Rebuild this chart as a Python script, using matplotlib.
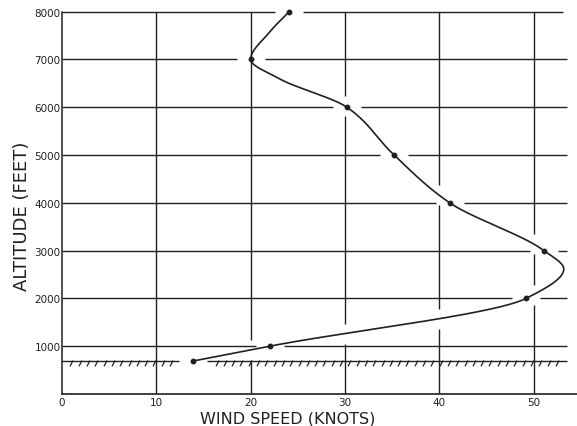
import numpy as np
import matplotlib
matplotlib.use("Agg")
import matplotlib.pyplot as plt
from matplotlib.path import Path

plt.rcParams['font.family'] = ['DejaVu Sans']

# Observed wind speed (knots) at each altitude (feet)
obs_alt = [690, 1000, 2000, 3000, 4000, 5000, 6000, 7000, 8000]
obs_speed = [13.9, 22.0, 49.2, 51.1, 41.1, 35.2, 30.2, 20.0, 24.1]

# Hand-faired profile through the observations (altitude ft, speed kt)
trace_alt = [690, 1000, 2000, 2615, 3000, 4000, 5000, 6000, 6590, 7000, 7570, 8000]
trace_speed = [13.9, 22.0, 49.2, 53.2, 51.1, 41.1, 35.2, 30.2, 23.1, 20.0, 22.0, 24.1]

# Ground level (feet)
ground_alt = 690

x_ticks = [0, 10, 20, 30, 40, 50]
x_tick_labels = ['0', '10', '20', '30', '40', '50']
y_ticks = [1000, 2000, 3000, 4000, 5000, 6000, 7000, 8000]
y_tick_labels = ['1000', '2000', '3000', '4000', '5000', '6000', '7000', '8000']

x_label = 'WIND SPEED (KNOTS)'
y_label = 'ALTITUDE (FEET)'

INK = '#202020'


def pchip(xk, yk, xq):
    """Shape-preserving cubic through (xk, yk), evaluated at xq."""
    xk = np.asarray(xk, float)
    yk = np.asarray(yk, float)
    h = np.diff(xk)
    d = np.diff(yk) / h
    m = np.zeros_like(yk)
    for k in range(1, len(xk) - 1):
        if d[k - 1] * d[k] <= 0:
            m[k] = 0.0
        else:
            w1 = 2 * h[k] + h[k - 1]
            w2 = h[k] + 2 * h[k - 1]
            m[k] = (w1 + w2) / (w1 / d[k - 1] + w2 / d[k])
    m[0] = d[0]
    m[-1] = d[-1]
    xq = np.asarray(xq, float)
    idx = np.clip(np.searchsorted(xk, xq) - 1, 0, len(xk) - 2)
    t = (xq - xk[idx]) / h[idx]
    h00 = 2 * t**3 - 3 * t**2 + 1
    h10 = t**3 - 2 * t**2 + t
    h01 = -2 * t**3 + 3 * t**2
    h11 = t**3 - t**2
    return (h00 * yk[idx] + h10 * h[idx] * m[idx]
            + h01 * yk[idx + 1] + h11 * h[idx] * m[idx + 1])


def open_intervals(lo, hi, cuts, half):
    """Split [lo, hi] into pieces that leave a gap of +-half around each cut."""
    pieces = []
    start = lo
    for c in sorted(cuts):
        a, b = c - half, c + half
        if b <= start or a >= hi:
            continue
        if a > start:
            pieces.append((start, a))
        start = max(start, b)
    if start < hi:
        pieces.append((start, hi))
    return pieces


fig = plt.figure(figsize=(5.77, 4.27), dpi=100)
ax = fig.add_axes([62 / 577, 32 / 427, 515 / 577, 387.2 / 427])
ax.set_xlim(0, 54.6)
ax.set_ylim(0, 8100)

# Smooth drawing of the faired profile, speed as a function of altitude
curve_alt = np.linspace(min(trace_alt), max(trace_alt), 900)
curve_speed = pchip(trace_alt, trace_speed, curve_alt)

# Gap sizes in data units (the grid is broken where the curve passes)
px_per_knot = ax.bbox.width / 54.6
px_per_ft = ax.bbox.height / 8100
h_half = 14 / px_per_knot
v_half = 10 / px_per_ft

grid_right = 53.5
grid_lw = 1.0

# Horizontal grid lines
for a in y_ticks:
    cuts = [float(np.interp(a, curve_alt, curve_speed))]
    right = grid_right if a != 8000 else 53.1
    for x0, x1 in open_intervals(0, right, cuts, h_half):
        ax.plot([x0, x1], [a, a], color=INK, lw=grid_lw, solid_capstyle='butt', zorder=1)

# Vertical grid lines
for s in x_ticks[1:]:
    diff = curve_speed - s
    sc = np.where(np.sign(diff[:-1]) * np.sign(diff[1:]) < 0)[0]
    cuts = []
    for i in sc:
        f = diff[i] / (diff[i] - diff[i + 1])
        cuts.append(curve_alt[i] + f * (curve_alt[i + 1] - curve_alt[i]))
    for y0, y1 in open_intervals(0, 8000, cuts, v_half):
        ax.plot([s, s], [y0, y1], color=INK, lw=grid_lw, solid_capstyle='butt', zorder=1)

# Ground line with hatching
hatch = Path([(0.3, 0.2), (-0.3, -1.0)], [Path.MOVETO, Path.LINETO])
for x0, x1 in open_intervals(0, grid_right, [obs_speed[0]], h_half):
    ax.plot([x0, x1], [ground_alt, ground_alt], color=INK, lw=grid_lw,
            solid_capstyle='butt', zorder=1)
    hx = np.arange(x0 + 1.0, x1 - 0.3, 0.88)
    ax.plot(hx, np.full_like(hx, ground_alt), linestyle='none', marker=hatch,
            markersize=7, markeredgewidth=0.9, markeredgecolor=INK,
            markerfacecolor='none', zorder=1)

# Wind profile and observation dots
ax.plot(curve_speed, curve_alt, color=INK, lw=1.2, zorder=3)
ax.plot(obs_speed, obs_alt, linestyle='none', marker='o', markersize=3.2,
        color=INK, zorder=4)

# Axes frame
for side in ('top', 'right'):
    ax.spines[side].set_visible(False)
ax.spines['left'].set_bounds(0, 8000)
ax.spines['left'].set_linewidth(1.1)
ax.spines['bottom'].set_linewidth(1.2)
ax.spines['left'].set_color(INK)
ax.spines['bottom'].set_color(INK)

ax.set_xticks(x_ticks)
ax.set_xticklabels(x_tick_labels, fontsize=7.5, color=INK)
ax.set_yticks(y_ticks)
ax.set_yticklabels(y_tick_labels, fontsize=7.5, color=INK)
ax.tick_params(axis='both', length=0)
ax.tick_params(axis='x', pad=2)
ax.tick_params(axis='y', pad=1)

fig.text(200 / 577, 1 - 424 / 427, x_label, fontsize=11.5, color=INK,
         ha='left', va='baseline')
fig.text(22 / 577, 1 - 216 / 427, y_label, fontsize=13, color=INK,
         rotation=90, ha='center', va='center')

fig.savefig('out.png', dpi=100, facecolor='white')
